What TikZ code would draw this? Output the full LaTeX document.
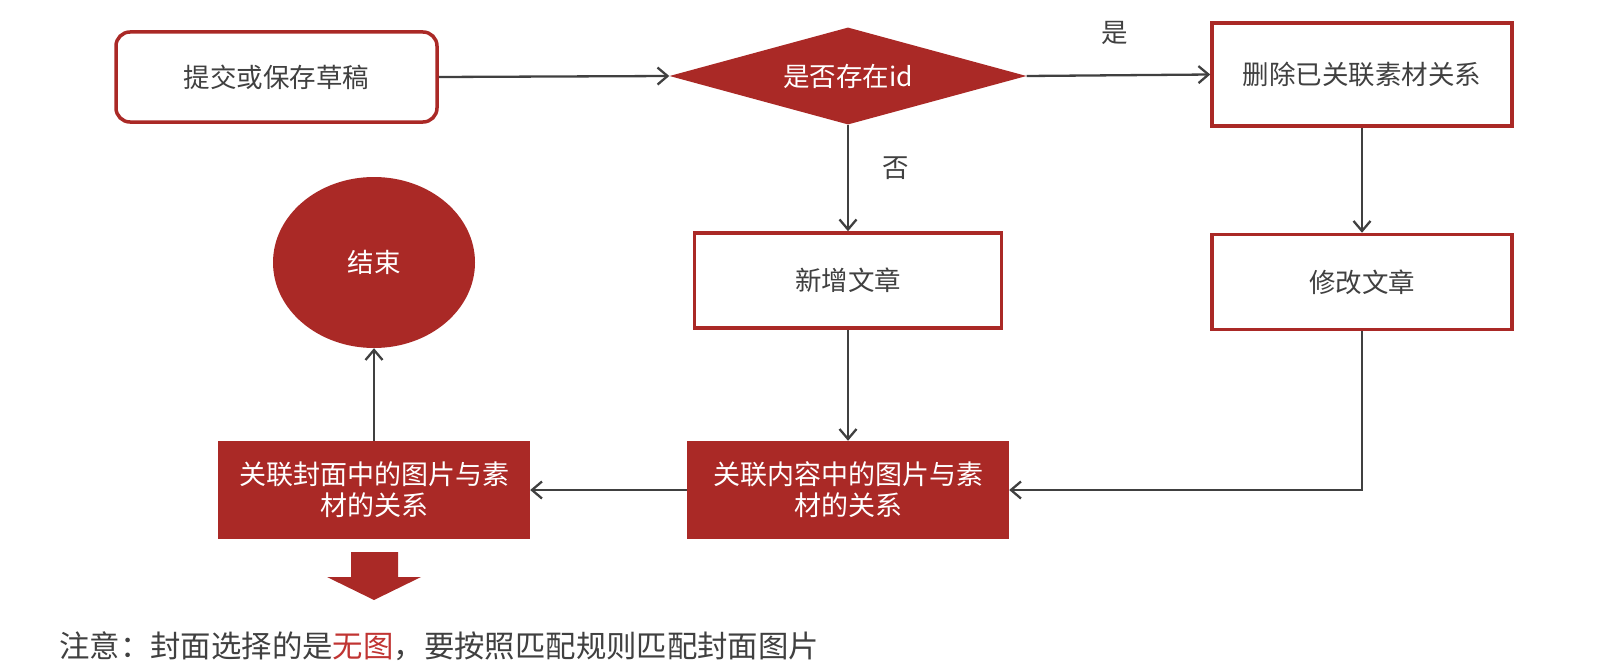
\documentclass[tikz,border=0pt]{standalone}
\usepackage{fontspec}
\setmainfont{Noto Sans CJK SC}
\usetikzlibrary{shapes.geometric,arrows.meta}
\definecolor{dred}{RGB}{170,41,38}
\definecolor{nred}{RGB}{192,52,50}
\definecolor{txt}{RGB}{64,64,64}
\begin{document}
\begin{tikzpicture}[x=1pt,y=-1pt,
  every node/.style={font=\fontsize{26.5}{31}\selectfont, inner sep=0pt},
  wbox/.style={draw=dred, line width=3.5pt, fill=white, text=txt},
  rbox/.style={fill=dred, text=white, align=center, font=\fontsize{27}{31}\selectfont},
  conn/.style={draw=txt, line width=2.3pt, -{Straight Barb[length=10pt,width=17pt,line width=2.3pt]}},
  lbl/.style={text=txt}]
\useasboundingbox (0,0) rectangle (1615,669);

\node[wbox, rounded corners=14pt, minimum width=321pt, minimum height=90pt] (start) at (276.5,77) {提交或保存草稿};
\node[diamond, aspect=3.68, fill=dred, text=white, minimum width=357pt, minimum height=97pt] (dec) at (848,76) {是否存在id};
\node[wbox, minimum width=300pt, minimum height=103pt] (del) at (1362,74.5) {删除已关联素材关系};
\node[wbox, minimum width=307pt, minimum height=95pt] (add) at (848,280.5) {新增文章};
\node[wbox, minimum width=300pt, minimum height=95pt] (mod) at (1362,282) {修改文章};
\node[ellipse, fill=dred, text=white, minimum width=202pt, minimum height=171pt] (end) at (374,262.5) {结束};
\node[rbox, minimum width=312pt, minimum height=98pt] (cover) at (374,490) {关联封面中的图片与素\\材的关系};
\node[rbox, minimum width=322pt, minimum height=98pt] (content) at (848,490) {关联内容中的图片与素\\材的关系};

\node[lbl] (yes) at (1115,33) {是};
\node[lbl] (no) at (896,168) {否};

\draw[conn] (start.east) -- (dec.west);
\draw[conn] (dec.east) -- (del.west);
\draw[conn] (dec.south) -- (add.north);
\draw[conn] (del.south) -- (mod.north);
\draw[conn] (add.south) -- (content.north);
\draw[conn] (mod.south) |- (content.east);
\draw[conn] (content.west) -- (cover.east);
\draw[conn] (cover.north) -- (end.south);

\fill[dred] (351,552) -- (398,552) -- (398,577) -- (421,577) -- (374,600) -- (327,577) -- (351,577) -- cycle;

\node[anchor=west, text=txt, font=\fontsize{30.4}{35}\selectfont] (note) at (59,646) {注意：封面选择的是{\color{nred}无图}，要按照匹配规则匹配封面图片};
\end{tikzpicture}
\end{document}
